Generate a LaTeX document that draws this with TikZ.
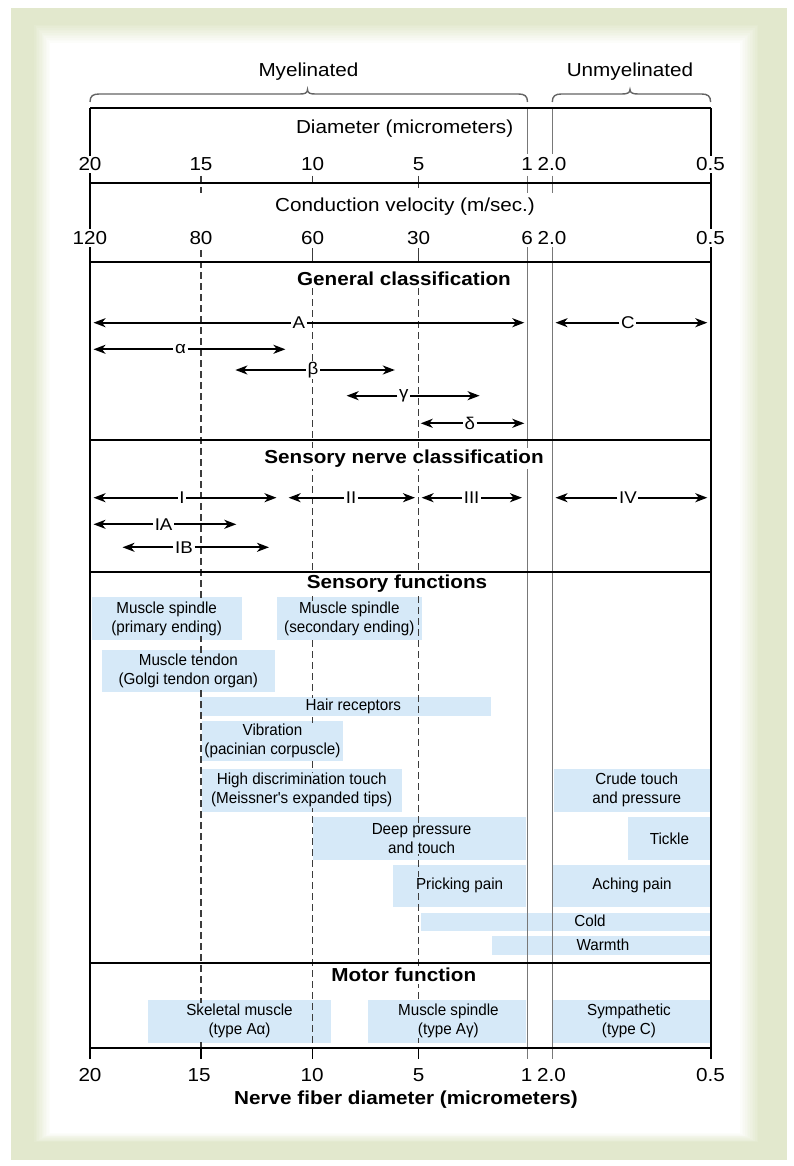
\documentclass[tikz,border=0pt]{standalone}
\usepackage{fontspec}
\setmainfont{Liberation Sans}
\newfontfamily\hfont[FakeStretch=1.1]{Liberation Sans}
\newfontfamily\nfont[FakeStretch=0.95]{Liberation Sans}
\usetikzlibrary{arrows.meta}

\definecolor{framegreen}{RGB}{226,232,205}
\definecolor{boxblue}{RGB}{214,233,248}
\definecolor{guide}{RGB}{120,120,120}
\definecolor{dashgray}{RGB}{60,60,60}
\definecolor{bracegray}{RGB}{100,100,100}

\tikzset{
  hdr/.style={font=\hfont\fontsize{18.8}{22}\selectfont, inner sep=1pt},
  num/.style={font=\hfont\fontsize{18.8}{22}\selectfont, fill=white, inner sep=2pt},
  ttl/.style={font=\hfont\bfseries\fontsize{18.8}{22}\selectfont, fill=white, inner sep=2pt},
  lbl/.style={font=\hfont\fontsize{17}{20}\selectfont, fill=white, inner sep=1.5pt},
  band/.style={fill=boxblue, draw=none},
  btxt/.style={font=\nfont\fontsize{16}{19}\selectfont, fill=boxblue, align=center, inner sep=0.5pt},
  rng/.style={line width=1.8pt, -{Stealth[length=12pt,width=9pt,inset=3.5pt]}},
  rule/.style={line width=2pt},
  guideline/.style={guide, line width=1.2pt},
  dashline/.style={dashgray, line width=1.2pt, dash pattern=on 7pt off 4pt},
  tickmark/.style={line width=1.5pt},
  bracepath/.style={bracegray, line width=1.4pt},
}

\begin{document}
\begin{tikzpicture}[x=1pt,y=-1pt]
\useasboundingbox (0,0) rectangle (793,1166);

% ---- frame with soft inner edge ----
\fill[white] (0,0) rectangle (793,1166);
\fill[framegreen] (11,8) rectangle (787,1160);
\foreach \i in {0,...,12}{
  \pgfmathsetmacro\t{\i/12}
  \pgfmathtruncatemacro\p{100*\t}
  \fill[white!\p!framegreen] ({33+17*\t},{23+20*\t}) rectangle ({760-20*\t},{1143-10*\t});
}

% ---- shaded bands ----
\fill[band] (91.7,597.3) rectangle (241.7,640);
\fill[band] (276.7,597.3) rectangle (421.7,640);
\fill[band] (101.7,650) rectangle (275,691.7);
\fill[band] (200,696.7) rectangle (491,716);
\fill[band] (201.7,720.7) rectangle (343.3,760.7);
\fill[band] (201.7,769) rectangle (401.7,811.7);
\fill[band] (554,769) rectangle (710,811.7);
\fill[band] (313,816.7) rectangle (525.6,860);
\fill[band] (627.9,816.7) rectangle (710,860);
\fill[band] (392.6,865) rectangle (525.6,907.3);
\fill[band] (553.3,865) rectangle (710,907.3);
\fill[band] (420.7,912.7) rectangle (710,931);
\fill[band] (492,936) rectangle (710,955);
\fill[band] (148,1000) rectangle (331.4,1043.3);
\fill[band] (368,1000) rectangle (525.6,1043.3);
\fill[band] (553.3,1000) rectangle (710,1043.3);

% ---- vertical guides ----
\foreach \x in {527.5,552.3}{
  \draw[guideline] (\x,108.5) -- (\x,154);
  \draw[guideline] (\x,176) -- (\x,193);
  \draw[guideline] (\x,247) -- (\x,1059);
}
\draw[dashline] (201,176) -- (201,193);
\draw[dashline] (201,250) -- (201,1048.3);
\foreach \x/\b in {312.5/183.5, 418.7/188}{
  \draw[tickmark, dashgray] (\x,176) -- (\x,\b);
  \draw[tickmark, dashgray] (\x,248) -- (\x,262);
  \draw[dashline] (\x,288) -- (\x,1048.3);
}
\foreach \x in {201,312.5,418.7}
  \draw[tickmark] (\x,1048.3) -- (\x,1059);

% ---- frame rules ----
\foreach \y in {108.5,183.5,262,440,571.7,962.5,1048.3}
  \draw[rule] (90,\y) -- (710.6,\y);
\draw[rule] (90,108.5) -- (90,1059);
\draw[rule] (710.6,108.5) -- (710.6,1059);

% ---- braces ----
\draw[bracepath] (90,102) .. controls (90,96) and (93,94) .. (99,94) -- (300,94)
  .. controls (305,94) and (307.5,93) .. (307.5,89.5)
  .. controls (307.5,93) and (310,94) .. (315,94) -- (518.5,94)
  .. controls (524.5,94) and (527.5,96) .. (527.5,102);
\draw[bracepath] (552.3,102) .. controls (552.3,96) and (555.3,94) .. (561.3,94) -- (622,94)
  .. controls (627,94) and (630,93) .. (630,89.5)
  .. controls (630,93) and (633,94) .. (638,94) -- (701.6,94)
  .. controls (707.6,94) and (710.6,96) .. (710.6,102);
\node[hdr] (myel) at (308.5,72) {Myelinated};
\node[hdr] (unmyel) at (630,72) {Unmyelinated};

% ---- diameter row ----
\node[hdr] (diam) at (404.6,128.3) {Diameter (micrometers)};
\node[num] (d20) at (90,164.3) {20};
\node[num] (d15) at (201,164.3) {15};
\node[num] (d10) at (312.5,164.3) {10};
\node[num] (d5) at (418.7,164.3) {5};
\node[num] (d1) at (527,164.3) {1};
\node[num] (d2) at (552,164.3) {2.0};
\node[num] (d05) at (710.6,164.3) {0.5};

% ---- velocity row ----
\node[hdr] (vel) at (405,207) {Conduction velocity (m/sec.)};
\node[num] (v120) at (90,238) {120};
\node[num] (v80) at (201,238) {80};
\node[num] (v60) at (312.5,238) {60};
\node[num] (v30) at (418.7,238) {30};
\node[num] (v6) at (527,238) {6};
\node[num] (v2) at (552,238) {2.0};
\node[num] (v05) at (710.6,238) {0.5};

% ---- general classification ----
\node[ttl] (gen) at (404,278.3) {General classification};
\coordinate (lAw) at (93.5,322.7);  \coordinate (lAe) at (524.3,322.7);
\coordinate (lCw) at (555.5,322.7); \coordinate (lCe) at (707.3,322.7);
\coordinate (law) at (93.5,349.3);  \coordinate (lae) at (285.4,349.3);
\coordinate (lbw) at (235.4,370);   \coordinate (lbe) at (394.8,370);
\coordinate (lgw) at (346.6,395.7); \coordinate (lge) at (479.6,395.7);
\coordinate (ldw) at (420.7,423.3); \coordinate (lde) at (524.3,423.3);
\node[lbl] (lA) at (298.8,322.7) {A};
\node[lbl] (lC) at (627.9,322.7) {C};
\node[lbl] (la) at (180.5,349.3) {α};
\node[lbl] (lb) at (313,370) {β};
\node[lbl] (lg) at (403.8,395.7) {γ};
\node[lbl] (ld) at (469.8,423.3) {δ};
\foreach \n in {lA,lC,la,lb,lg,ld}{
  \draw[rng] (\n) -- (\n w);
  \draw[rng] (\n) -- (\n e);
}

% ---- sensory nerve classification ----
\node[ttl] (sen) at (404,458.3) {Sensory nerve classification};
\coordinate (sIw) at (93.5,497.7);    \coordinate (sIe) at (276.5,497.7);
\coordinate (sIIw) at (288.6,497.7);  \coordinate (sIIe) at (415,497.7);
\coordinate (sIIIw) at (421.6,497.7); \coordinate (sIIIe) at (522,497.7);
\coordinate (sIVw) at (555.5,497.7);  \coordinate (sIVe) at (707.3,497.7);
\coordinate (sIAw) at (93.5,524.3);   \coordinate (sIAe) at (236.3,524.3);
\coordinate (sIBw) at (122.5,547.3);  \coordinate (sIBe) at (269,547.3);
\node[lbl] (sI) at (181.9,497.7) {I};
\node[lbl] (sII) at (351,497.7) {II};
\node[lbl] (sIII) at (471.6,497.7) {III};
\node[lbl] (sIV) at (627.9,497.7) {IV};
\node[lbl] (sIA) at (163.6,524.3) {IA};
\node[lbl] (sIB) at (184,547.3) {IB};
\foreach \n in {sI,sII,sIII,sIV,sIA,sIB}{
  \draw[rng] (\n) -- (\n w);
  \draw[rng] (\n) -- (\n e);
}

% ---- sensory functions ----
\node[ttl] (sfun) at (397,584) {Sensory functions};
\node[btxt] (msp) at (166.7,618.8) {Muscle spindle\\(primary ending)};
\node[btxt] (mss) at (349.3,618.8) {Muscle spindle\\(secondary ending)};
\node[btxt] (mt) at (188.3,670.8) {Muscle tendon\\(Golgi tendon organ)};
\node[btxt] (hair) at (353.3,706.3) {Hair receptors};
\node[btxt] (vib) at (272.5,740.7) {Vibration\\(pacinian corpuscle)};
\node[btxt] (hdt) at (301.7,790.3) {High discrimination touch\\(Meissner's expanded tips)};
\node[btxt] (crude) at (636.7,790.3) {Crude touch\\and pressure};
\node[btxt] (deep) at (421.6,838.8) {Deep pressure\\and touch};
\node[btxt] (tickle) at (669.4,838.3) {Tickle};
\node[btxt] (prick) at (459.6,885) {Pricking pain};
\node[btxt] (ache) at (632,885) {Aching pain};
\node[btxt] (cold) at (590,921) {Cold};
\node[btxt] (warm) at (603,945) {Warmth};

% ---- motor function ----
\node[ttl] (mot) at (403.8,975) {Motor function};
\node[btxt] (skel) at (239.5,1020.7) {Skeletal muscle\\(type Aα)};
\node[btxt] (msg) at (448.4,1020.7) {Muscle spindle\\(type Aγ)};
\node[btxt] (symp) at (629,1020.7) {Sympathetic\\(type C)};

% ---- bottom scale ----
\node[hdr] (b20) at (90,1075) {20};
\node[hdr] (b15) at (199,1075) {15};
\node[hdr] (b10) at (312,1075) {10};
\node[hdr] (b5) at (418.5,1075) {5};
\node[hdr] (b1) at (526.5,1075) {1};
\node[hdr] (b2) at (551.5,1075) {2.0};
\node[hdr] (b05) at (710.6,1075) {0.5};
\node[ttl, fill=none] (axis) at (406,1100) {Nerve fiber diameter (micrometers)};
\end{tikzpicture}
\end{document}
